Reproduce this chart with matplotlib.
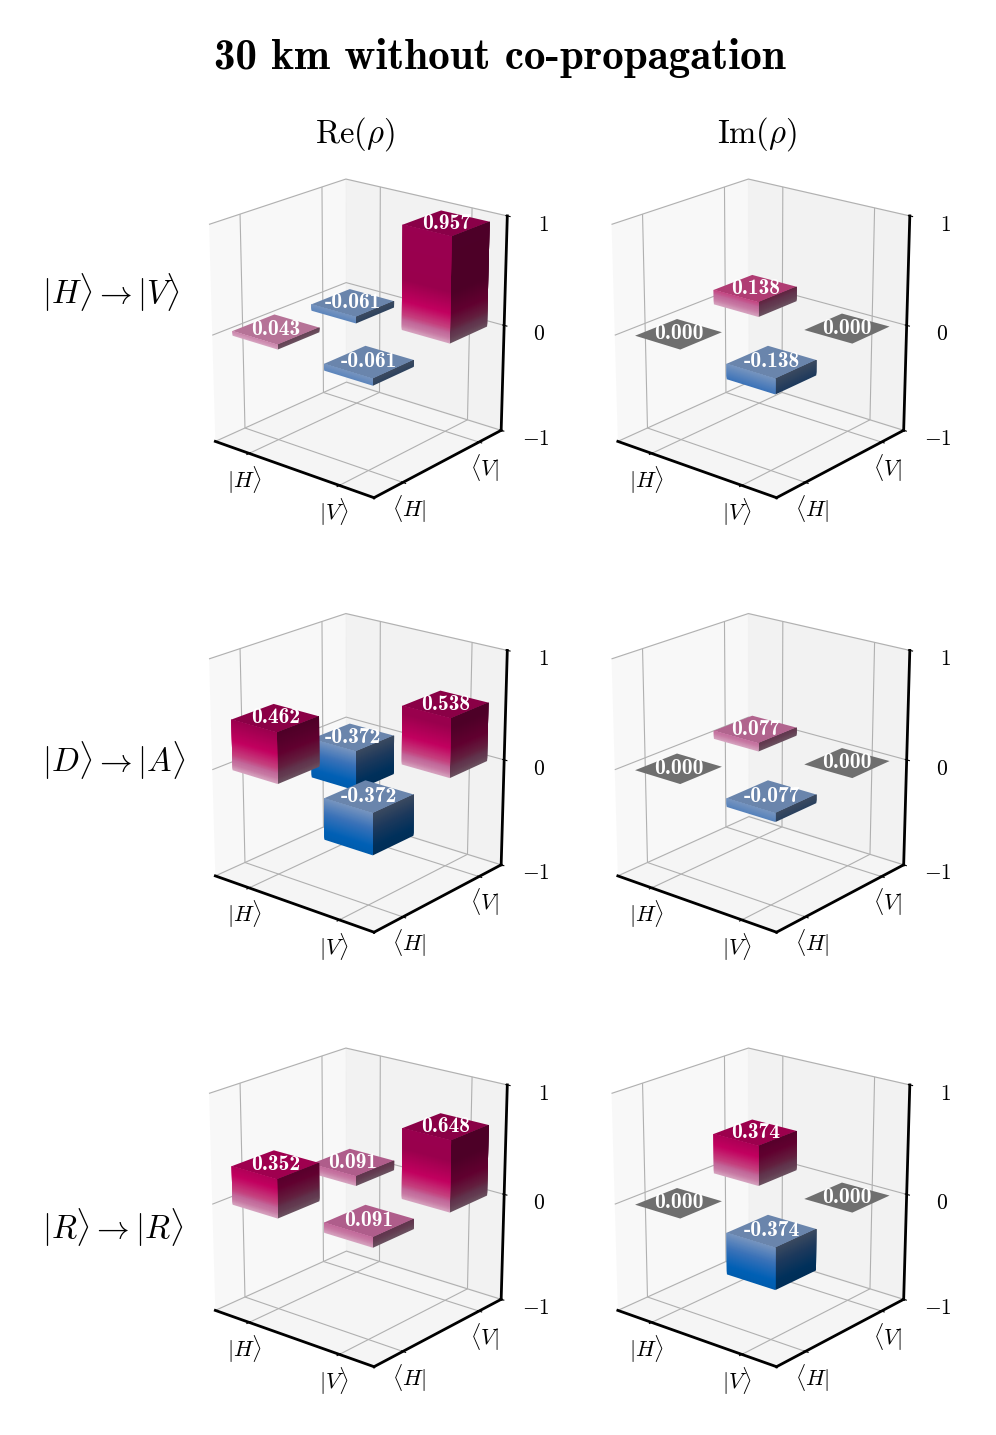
import numpy as np
import matplotlib
matplotlib.use("Agg")
from matplotlib import pyplot as plt
from matplotlib.colors import LinearSegmentedColormap, to_rgb
from mpl_toolkits.mplot3d.art3d import Poly3DCollection

plt.rcParams['mathtext.fontset'] = 'cm'
plt.rcParams['axes.unicode_minus'] = True

# density matrices, rows are |H>,|V> and columns <H|,<V|
re_hv = [[0.043, -0.061], [-0.061, 0.957]]
im_hv = [[0.000, 0.138], [-0.138, 0.000]]
re_da = [[0.462, -0.372], [-0.372, 0.538]]
im_da = [[0.000, 0.077], [-0.077, 0.000]]
re_rr = [[0.352, 0.091], [0.091, 0.648]]
im_rr = [[0.000, 0.374], [-0.374, 0.000]]

row_labels = [r'$|H\rangle \rightarrow |V\rangle$',
              r'$|D\rangle \rightarrow |A\rangle$',
              r'$|R\rangle \rightarrow |R\rangle$']
col_labels = [r'$\mathrm{Re}(\rho)$', r'$\mathrm{Im}(\rho)$']
ket_labels = [r'$|H\rangle$', r'$|V\rangle$']
bra_labels = [r'$\langle H|$', r'$\langle V|$']
z_ticks = [-1, 0, 1]

# colour by height of the slice
pos_cmap = LinearSegmentedColormap.from_list('pos', [
    (0.0, '#d6a4c0'), (0.05, '#c87aa4'), (0.09, '#c2689a'), (0.138, '#c4427f'),
    (0.27, '#c2005f'), (0.47, '#99004d'), (1.0, '#990050')])
neg_cmap = LinearSegmentedColormap.from_list('neg', [
    (0.0, '#7694bf'), (0.37, '#3a72b8'), (0.8, '#0060b5'), (1.0, '#005cae')])
ZERO_COLOR = '#6f6f6f'
BAR_W = 0.51
BAR_W_Y = 0.5
N_PER_UNIT = 110
# bars sit a little off the ticks
BAR_X = [0.0, 1.014]
BAR_Y = [-0.01, 0.95]


def shade(c, f):
    return tuple(np.array(c[:3]) * f)


def get_color(z, val):
    if val >= 0:
        return pos_cmap(z)
    return neg_cmap(min(-z / 0.372, 1.0))


def draw_bar(ax, x, y, val):
    x0, x1 = x - BAR_W / 2, x + BAR_W / 2
    y0, y1 = y - BAR_W_Y / 2, y + BAR_W_Y / 2
    zbot, ztop = min(val, 0), max(val, 0)
    polys, cols = [], []
    if val != 0:
        n = max(int(abs(val) * N_PER_UNIT), 2)
        zs = np.linspace(zbot, ztop, n + 1)
        step = zs[1] - zs[0]
        for a, b in zip(zs[:-1], zs[1:]):
            c = get_color((a + b) / 2, val)
            # each slice runs on under the next one up, so no seams show
            b2 = min(b + step * 3, ztop)
            # front left face
            polys.append([(x0, y0, a), (x1, y0, a), (x1, y0, b2), (x0, y0, b2)])
            cols.append(shade(c, 1.0))
            # front right face
            polys.append([(x1, y0, a), (x1, y1, a), (x1, y1, b2), (x1, y0, b2)])
            cols.append(shade(c, 0.5))
        polys.append([(x0, y0, ztop), (x1, y0, ztop), (x1, y1, ztop), (x0, y1, ztop)])
        cols.append(shade(get_color(ztop, val), 0.9))
    else:
        polys.append([(x0, y0, 0), (x1, y0, 0), (x1, y1, 0), (x0, y1, 0)])
        cols.append(to_rgb(ZERO_COLOR))
    pc = Poly3DCollection(polys, facecolors=cols, edgecolors='none', linewidths=0)
    ax.add_collection3d(pc)
    ax.text(x, y, ztop, '%.3f' % val, color='white', family='cmb10', fontsize=15.5,
            ha='center', va='center', zorder=1000)


def draw_matrix(rect, matrix):
    ax = fig.add_axes(rect, projection='3d')
    ax.view_init(elev=20.5, azim=-50.5)
    ax.set_box_aspect((1, 1, 1.11), zoom=1.034)
    for i in range(2):
        for j in range(2):
            draw_bar(ax, BAR_X[i], BAR_Y[j], matrix[i][j])
    ax.set_xlim(-0.395, 1.365, view_margin=0)
    ax.set_ylim(-0.355, 1.31, view_margin=0)
    ax.set_zlim(-1, 1, view_margin=0)
    ax.set_xticks([0, 1])
    ax.set_yticks([0, 1])
    ax.set_zticks(z_ticks)
    ax.set_xticklabels(ket_labels, fontsize=16)
    ax.set_yticklabels(bra_labels, fontsize=16)
    ax.set_zticklabels(['$%d$' % t for t in z_ticks], fontsize=15.5)
    for axis in (ax.xaxis, ax.yaxis, ax.zaxis):
        axis.line.set_linewidth(2)
        axis.line.set_color('black')
        axis.offsetText.set_visible(False)
        axis.label.set_visible(False)
    ax.tick_params(axis='x', pad=-3)
    ax.tick_params(axis='y', pad=-3)
    ax.tick_params(axis='z', pad=8)
    return ax


fig = plt.figure(figsize=(9.96, 14.35), dpi=100)
W, H = 996.0, 1435.0

matrices = [[re_hv, im_hv], [re_da, im_da], [re_rr, im_rr]]
for r, row in enumerate(matrices):
    for c, m in enumerate(row):
        left = 179.5 + 402.5 * c
        top = 160 + 434.5 * r
        size = 350
        draw_matrix([left / W, 1 - (top + size) / H, size / W, size / H], m)

fig.text(500 / W, 1 - 58 / H, '30 km without co-propagation', family='cmb10', fontsize=31,
         ha='center', va='center')
for c, label in enumerate(col_labels):
    fig.text((355 + 402.5 * c) / W, 1 - 134 / H, label, fontsize=23.5, ha='center', va='center')
for r, label in enumerate(row_labels):
    fig.text(42 / W, 1 - (293 + 467.5 * r) / H, label, fontsize=23.5, ha='left', va='center')

fig.savefig('out.png', dpi=100)
